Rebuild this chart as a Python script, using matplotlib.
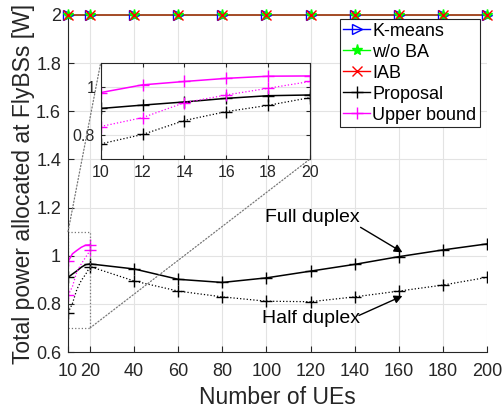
import matplotlib.pyplot as plt
from matplotlib.lines import Line2D
from matplotlib.patches import Rectangle, ConnectionPatch

plt.rcParams['font.family'] = ['Liberation Sans', 'DejaVu Sans']

# data
ues = [10, 12, 14, 16, 18, 20, 40, 60, 80, 100, 120, 140, 160, 180, 200]
proposal_fd = [0.910, 0.924, 0.937, 0.952, 0.963, 0.966, 0.945, 0.902,
               0.889, 0.908, 0.936, 0.964, 0.996, 1.024, 1.049]
proposal_hd = [0.763, 0.802, 0.860, 0.897, 0.923, 0.955, 0.895, 0.853,
               0.829, 0.811, 0.809, 0.829, 0.853, 0.878, 0.910]
ues_ub = [10, 12, 14, 16, 18, 20]
upper_fd = [0.976, 1.008, 1.022, 1.035, 1.044, 1.045]
upper_hd = [0.835, 0.872, 0.934, 0.966, 0.994, 1.022]
ues_top = [10, 20, 40, 60, 80, 100, 120, 140, 160, 180, 200]
kmeans = [2.0, 2.0, 2.0, 2.0, 2.0, 2.0, 2.0, 2.0, 2.0, 2.0, 2.0]
wo_ba = [2.0, 2.0, 2.0, 2.0, 2.0, 2.0, 2.0, 2.0, 2.0, 2.0, 2.0]
iab = [2.0, 2.0, 2.0, 2.0, 2.0, 2.0, 2.0, 2.0, 2.0, 2.0, 2.0]
xticks = [10, 20, 40, 60, 80, 100, 120, 140, 160, 180, 200]
zoom_x = (10, 20)
zoom_y = (0.7, 1.1)

txt = '#262626'
grid_c = '#e3e3e3'
main_marks = [0, 5, 6, 7, 8, 9, 10, 11, 12, 13, 14]

fig = plt.figure(figsize=(5.04, 4.12), dpi=100)
ax = fig.add_axes([0.135, 0.1456, 0.831, 0.818])

# baselines at 2 W (lines blended, markers on top)
for y, c in [(kmeans, 'blue'), (wo_ba, 'lime'), (iab, 'red')]:
    ax.plot(ues_top, y, color=c, lw=1.4, alpha=0.6, clip_on=False, zorder=3)
ax.plot(ues_top, kmeans, ls='none', marker='>', mfc='none', mec='blue', ms=7, clip_on=False, zorder=4)
ax.plot(ues_top, wo_ba, ls='none', marker='*', color='lime', ms=8, clip_on=False, zorder=4)
ax.plot(ues_top, iab, ls='none', marker='x', color='red', ms=7, clip_on=False, zorder=4)

ax.plot(ues, proposal_fd, color='black', lw=1.1, marker='+', ms=9, markevery=main_marks)
ax.plot(ues, proposal_hd, color='black', lw=0.9, ls=':', marker='+', ms=9, markevery=main_marks)
ax.plot(ues_ub, upper_fd, color='magenta', lw=1.1, marker='+', ms=9, markevery=[0, 5])
ax.plot(ues_ub, upper_hd, color='magenta', lw=0.9, ls=':', marker='+', ms=9, markevery=[0, 5])

ax.set_xlim(10, 200)
ax.set_ylim(0.6, 2)
ax.set_xticks(xticks)
ax.set_yticks([0.6, 0.8, 1.0, 1.2, 1.4, 1.6, 1.8, 2.0])
ax.set_yticklabels(['0.6', '0.8', '1', '1.2', '1.4', '1.6', '1.8', '2'])
ax.tick_params(direction='in', labelsize=13, colors=txt, pad=5, length=4)
ax.tick_params(axis='x', pad=8)
ax.grid(True, color=grid_c, lw=0.8)
ax.set_axisbelow(True)
for s in ['top', 'right']:
    ax.spines[s].set_visible(False)
for s in ['left', 'bottom']:
    ax.spines[s].set_color(txt)
ax.set_xlabel('Number of UEs', fontsize=16.5, color=txt, labelpad=4)
ax.set_ylabel('Total power allocated at FlyBSs [W]', fontsize=16.5, color=txt, labelpad=1)

handles = [
    Line2D([], [], color='blue', marker='>', mfc='none', ms=7, lw=1),
    Line2D([], [], color='lime', marker='*', ms=8, lw=1),
    Line2D([], [], color='red', marker='x', ms=7, lw=1),
    Line2D([], [], color='black', marker='+', ms=9, lw=1),
    Line2D([], [], color='magenta', marker='+', ms=9, lw=1),
]
labels = ['K-means', 'w/o BA', 'IAB', 'Proposal', 'Upper bound']
leg = ax.legend(handles, labels, loc='upper right', bbox_to_anchor=(0.983, 0.988),
                fontsize=13, handlelength=1.5, handletextpad=0.1, labelspacing=0.22,
                borderpad=0.2, borderaxespad=0, fancybox=False, framealpha=1)
leg.get_frame().set_edgecolor(txt)
leg.get_frame().set_linewidth(0.8)
leg.set_zorder(10)

# annotations
ax.text(121, 1.158, 'Full duplex', fontsize=14, color='black', ha='center', va='center')
ax.annotate('', xy=(161.7, 1.014), xytext=(142.7, 1.118),
            arrowprops=dict(arrowstyle='-|>', color='black', lw=1, mutation_scale=12, shrinkA=0, shrinkB=0))
ax.text(120, 0.739, 'Half duplex', fontsize=14, color='black', ha='center', va='center')
ax.annotate('', xy=(161.7, 0.833), xytext=(142, 0.752),
            arrowprops=dict(arrowstyle='-|>', color='black', lw=1, mutation_scale=12, shrinkA=0, shrinkB=0))

# zoom box
ax.add_patch(Rectangle((zoom_x[0], zoom_y[0]), zoom_x[1] - zoom_x[0], zoom_y[1] - zoom_y[0],
                       fill=False, ls=':', lw=0.9, ec='#777777', zorder=2))

# inset
axins = fig.add_axes([0.1998, 0.614, 0.4153, 0.2338])
axins.plot(ues, proposal_fd, color='black', lw=1.1, marker='+', ms=9)
axins.plot(ues, proposal_hd, color='black', lw=0.9, ls=':', marker='+', ms=9)
axins.plot(ues_ub, upper_fd, color='magenta', lw=1.1, marker='+', ms=9)
axins.plot(ues_ub, upper_hd, color='magenta', lw=0.9, ls=':', marker='+', ms=9)
axins.set_xlim(*zoom_x)
axins.set_ylim(*zoom_y)
axins.set_xticks([10, 12, 14, 16, 18, 20])
axins.set_yticks([0.8, 0.9, 1.0])
axins.set_yticklabels(['0.8', '', '1'])
axins.tick_params(direction='in', labelsize=11.5, colors=txt, top=True, right=True, pad=4, length=3)
axins.grid(True, color=grid_c, lw=0.8)
axins.set_axisbelow(True)
for s in axins.spines.values():
    s.set_color(txt)

for xa, xb in [((zoom_x[0], zoom_y[1]), (0, 1)), ((zoom_x[1], zoom_y[0]), (1, 0))]:
    con = ConnectionPatch(xyA=xa, coordsA=ax.transData, xyB=xb, coordsB=axins.transAxes,
                          ls=':', lw=0.9, color='#777777')
    fig.add_artist(con)

fig.savefig('out.png', dpi=100)
